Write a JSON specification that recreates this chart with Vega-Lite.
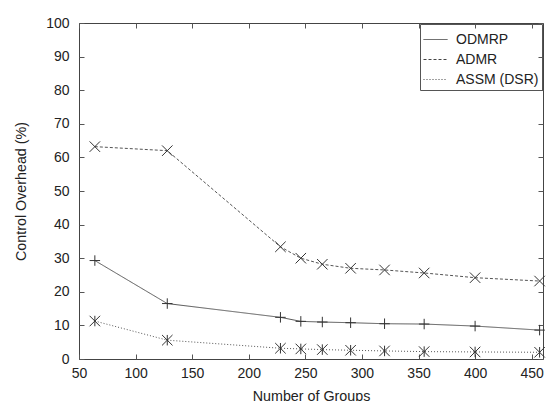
{
  "$schema": "https://vega.github.io/schema/vega-lite/v6.json",
  "width": 464,
  "height": 336,
  "autosize": {"type": "none"},
  "padding": {"left": 79, "top": 23, "right": 7, "bottom": 42},
  "background": "white",
  "config": {
    "font": "Liberation Sans",
    "view": {"stroke": "#444", "strokeWidth": 1},
    "axis": {
      "domain": false,
      "grid": false,
      "ticks": true,
      "tickSize": 5,
      "offset": -5,
      "tickColor": "#555",
      "tickWidth": 1,
      "labelFlush": false,
      "labelFont": "Liberation Sans",
      "labelFontSize": 14,
      "labelColor": "#222",
      "titleFont": "Liberation Sans",
      "titleFontSize": 14.3,
      "titleFontWeight": "normal",
      "titleColor": "#222"
    }
  },
  "data": {
    "values": [
      {"series": "ODMRP", "groups": 64, "overhead": 29.3},
      {"series": "ODMRP", "groups": 128, "overhead": 16.5},
      {"series": "ODMRP", "groups": 228, "overhead": 12.4},
      {"series": "ODMRP", "groups": 246, "overhead": 11.2},
      {"series": "ODMRP", "groups": 265, "overhead": 11.0},
      {"series": "ODMRP", "groups": 290, "overhead": 10.8},
      {"series": "ODMRP", "groups": 320, "overhead": 10.5},
      {"series": "ODMRP", "groups": 355, "overhead": 10.4},
      {"series": "ODMRP", "groups": 400, "overhead": 9.8},
      {"series": "ODMRP", "groups": 457, "overhead": 8.6},
      {"series": "ADMR", "groups": 64, "overhead": 63.2},
      {"series": "ADMR", "groups": 128, "overhead": 62.0},
      {"series": "ADMR", "groups": 228, "overhead": 33.4},
      {"series": "ADMR", "groups": 246, "overhead": 30.0},
      {"series": "ADMR", "groups": 265, "overhead": 28.2},
      {"series": "ADMR", "groups": 290, "overhead": 27.0},
      {"series": "ADMR", "groups": 320, "overhead": 26.5},
      {"series": "ADMR", "groups": 355, "overhead": 25.6},
      {"series": "ADMR", "groups": 400, "overhead": 24.2},
      {"series": "ADMR", "groups": 457, "overhead": 23.2},
      {"series": "ASSM (DSR)", "groups": 64, "overhead": 11.3},
      {"series": "ASSM (DSR)", "groups": 128, "overhead": 5.6},
      {"series": "ASSM (DSR)", "groups": 228, "overhead": 3.2},
      {"series": "ASSM (DSR)", "groups": 246, "overhead": 3.0},
      {"series": "ASSM (DSR)", "groups": 265, "overhead": 2.8},
      {"series": "ASSM (DSR)", "groups": 290, "overhead": 2.6},
      {"series": "ASSM (DSR)", "groups": 320, "overhead": 2.4},
      {"series": "ASSM (DSR)", "groups": 355, "overhead": 2.2},
      {"series": "ASSM (DSR)", "groups": 400, "overhead": 2.1},
      {"series": "ASSM (DSR)", "groups": 457, "overhead": 2.0}
    ]
  },
  "layer": [
    {
      "mark": {"type": "line", "strokeWidth": 1, "color": "#555"},
      "encoding": {
        "x": {
          "field": "groups",
          "type": "quantitative",
          "scale": {"domain": [50, 460], "nice": false, "zero": false},
          "axis": {
            "values": [50, 100, 150, 200, 250, 300, 350, 400, 450],
            "title": "Number of Groups",
            "labelPadding": 7,
            "titlePadding": 9
          }
        },
        "y": {
          "field": "overhead",
          "type": "quantitative",
          "scale": {"domain": [0, 100], "nice": false},
          "axis": {
            "values": [0, 10, 20, 30, 40, 50, 60, 70, 80, 90, 100],
            "title": "Control Overhead (%)",
            "labelPadding": 10,
            "titlePadding": 17
          }
        },
        "detail": {"field": "series", "type": "nominal"},
        "strokeDash": {
          "field": "series",
          "type": "nominal",
          "scale": {"domain": ["ODMRP", "ADMR", "ASSM (DSR)"], "range": [[1, 0], [3, 2], [1, 2]]},
          "legend": {
            "title": null,
            "orient": "top-right",
            "offset": 1,
            "strokeColor": "#555",
            "padding": 3,
            "labelFontSize": 14,
            "labelColor": "#222",
            "symbolType": "stroke",
            "symbolSize": 576,
            "symbolStrokeColor": "#444",
            "symbolStrokeWidth": 1,
            "symbolOpacity": 1,
            "rowPadding": 0,
            "labelOffset": 8
          }
        }
      }
    },
    {
      "mark": {"type": "point", "filled": false, "strokeWidth": 1, "size": 110, "color": "#333", "opacity": 1},
      "encoding": {
        "x": {
          "field": "groups",
          "type": "quantitative",
          "axis": {"orient": "top", "values": [50, 100, 150, 200, 250, 300, 350, 400, 450], "labels": false, "title": null}
        },
        "y": {
          "field": "overhead",
          "type": "quantitative",
          "axis": {"orient": "right", "values": [0, 10, 20, 30, 40, 50, 60, 70, 80, 90, 100], "labels": false, "title": null}
        },
        "shape": {
          "field": "series",
          "type": "nominal",
          "scale": {
            "domain": ["ADMR", "ODMRP", "ASSM (DSR)"],
            "range": ["M-1,-1L1,1M-1,1L1,-1", "M-1,0H1M0,-1V1", "M-1,-1L1,1M-1,1L1,-1M0,-1V1"]
          },
          "legend": null
        }
      }
    }
  ],
  "resolve": {"axis": {"x": "independent", "y": "independent"}}
}
